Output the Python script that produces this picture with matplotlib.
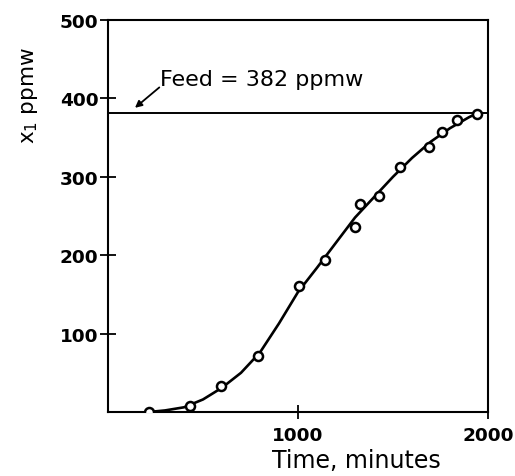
import matplotlib
matplotlib.use("Agg")
import matplotlib.pyplot as plt

# Measured data points (time in minutes, x1 in ppmw)
time_pts = [215, 432, 595, 789, 1005, 1142, 1300, 1326, 1426, 1537, 1689, 1758, 1837, 1942]
x1_pts = [0, 8, 33, 71, 161, 194, 236, 265, 276, 312, 338, 357, 372, 380]

# Fitted smooth curve
curve_t = [215, 300, 400, 500, 600, 700, 800, 900, 1000, 1100, 1200, 1300, 1400,
           1500, 1600, 1700, 1800, 1900, 1950]
curve_x1 = [0, 2, 6, 16, 31, 50, 76, 113, 153, 184, 216, 248, 274, 300, 324, 345,
            362, 376, 382]

feed_value = 382
feed_label = "Feed = 382 ppmw"
xticks = [1000, 2000]
yticks = [100, 200, 300, 400, 500]

fig = plt.figure(figsize=(5.15, 4.77), dpi=100)
ax = fig.add_axes([108/515, 1-413/477, 380/515, 392/477])

ax.axhline(feed_value, color="black", lw=1.4)
ax.plot(curve_t, curve_x1, color="black", lw=1.9, solid_capstyle="round",
        solid_joinstyle="round")
ax.plot(time_pts, x1_pts, linestyle="none", marker="o", ms=6.5,
        mfc="white", mec="black", mew=1.8, zorder=3)

ax.set_xlim(0, 2000)
ax.set_ylim(0, 500)
ax.set_xticks(xticks)
ax.set_yticks(yticks)
ax.tick_params(axis="x", direction="inout", length=9.5, width=1.3,
               labelsize=13.3, pad=5)
ax.tick_params(axis="y", direction="inout", length=12, width=1.3,
               labelsize=13.3, pad=1)
for lab in ax.get_xticklabels() + ax.get_yticklabels():
    lab.set_fontweight("bold")
for s in ax.spines.values():
    s.set_linewidth(1.5)

ax.set_xlabel("Time, minutes", fontsize=17, va="center")
ax.xaxis.set_label_coords((356-108)/380, (413-461)/392)
ax.set_ylabel("x$_1$ ppmw", fontsize=15.5, va="center", ha="center")
ax.yaxis.set_label_coords((30-108)/380, (413-96)/392)

ax.text(274, 425, feed_label, fontsize=16, va="center", ha="left")
ax.annotate("", xy=(142, 388), xytext=(270, 414),
            arrowprops=dict(arrowstyle="-|>", color="black", lw=1.3,
                            mutation_scale=10, shrinkA=0, shrinkB=0))

fig.savefig("out.png", dpi=100)
